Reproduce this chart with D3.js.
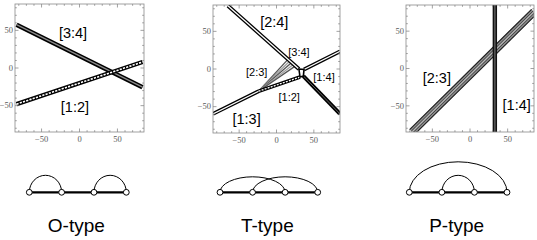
<!DOCTYPE html>
<html>
<head>
<meta charset="utf-8">
<script src="https://cdn.jsdelivr.net/npm/d3@7"></script>
<style>
body { margin: 0; background: #fff; }
</style>
</head>
<body>
<svg id="fig" width="537" height="240"></svg>
<script>
// axis ticks shared by the three contour plots
var tickValues = [-50, 0, 50];
var minorTicks = d3.range(-80, 81, 10);
var plotDomain = [-85, 85];

// O-type: two line solitons, [x1, y1, x2, y2]
var oDark = [[-83, 57.5, 83, -25.5]];
var oHatched = [[-83, -48, 83, 8]];
var oLabels = [["[3:4]", -8.5, 46], ["[1:2]", -6, -52]];

// T-type: resonant web
var tOutline = [[-65, 84, 30, 0], [36.8, -0.7, 85, 23.4], [-85, -59.6, -24, -29.5]];
var tDark = [[36, -9.4, 85, -59.6]];
var tHatched = [[-24, -29.5, 31.5, -10.7]];
var tBox = [[30, 0], [36.8, -0.7], [36, -9.4], [31.5, -10.7]];
var tFanStart = [-24, -29.5];
var tFanEnds = [[15, 12.5], [17.5, 10.3], [20, 8.2], [22.5, 6], [25, 3.8]];
var tLabels = [["[2:4]", -3, 63, "big"], ["[3:4]", 30, 22, "small"], ["[2:3]", -26.5, -3.6, "small"],
               ["[1:4]", 63.6, -11, "small"], ["[1:2]", 17, -38, "small"], ["[1:3]", -40, -66, "big"]];

// P-type: crossing bundle and vertical soliton
var pBundle = [[-77, -85, 85, 76]];
var pVertical = [[33, 85, 33, -85]];
var pLabels = [["[2:3]", -44, -13], ["[1:4]", 62, -48.5]];

// chord diagrams under each plot
var diagramNames = ["O-type", "T-type", "P-type"];
var diagramArcs = [[[0, 1], [2, 3]], [[0, 2], [1, 3]], [[0, 3], [1, 2]]];
var nodeIndex = [0, 1, 2, 3];

var svg = d3.select("#fig");

function makePanel(id, x0, x1, y0, y1){
  var x = d3.scaleLinear().domain(plotDomain).range([x0, x1]);
  var y = d3.scaleLinear().domain(plotDomain).range([y1, y0]);
  var g = svg.append("g");

  g.append("clipPath").attr("id", id)
    .append("rect").attr("x", x0).attr("y", y0)
    .attr("width", x1 - x0).attr("height", y1 - y0);

  var body = g.append("g").attr("clip-path", "url(#" + id + ")");

  // frame and ticks on all four sides
  var frame = g.append("g").attr("stroke", "#8a8a8a").attr("stroke-width", 0.8).attr("fill", "none");
  frame.append("rect").attr("x", x0).attr("y", y0).attr("width", x1 - x0).attr("height", y1 - y0);
  minorTicks.forEach(function(v){
    var len = tickValues.indexOf(v) >= 0 ? 3.5 : 1.8;
    frame.append("line").attr("x1", x(v)).attr("x2", x(v)).attr("y1", y1).attr("y2", y1 - len);
    frame.append("line").attr("x1", x(v)).attr("x2", x(v)).attr("y1", y0).attr("y2", y0 + len);
    frame.append("line").attr("y1", y(v)).attr("y2", y(v)).attr("x1", x0).attr("x2", x0 + len);
    frame.append("line").attr("y1", y(v)).attr("y2", y(v)).attr("x1", x1).attr("x2", x1 - len);
  });

  var fmt = d3.format("d");
  g.selectAll(".yt").data(tickValues).enter().append("text")
    .attr("x", x0 - 2).attr("y", function(d){ return y(d); })
    .attr("dy", "0.32em").attr("text-anchor", "end")
    .attr("font-family", "Liberation Serif, serif").attr("font-size", 8.5).attr("fill", "#5a5a5a")
    .text(fmt);
  g.selectAll(".xt").data(tickValues).enter().append("text")
    .attr("x", function(d){ return x(d); }).attr("y", y1 + 9.5)
    .attr("text-anchor", "middle")
    .attr("font-family", "Liberation Serif, serif").attr("font-size", 8.5).attr("fill", "#5a5a5a")
    .text(fmt);

  return {x: x, y: y, body: body, g: g};
}

// a soliton drawn as stacked strokes, optionally offset sideways in pixels
function drawBand(p, segs, layers){
  segs.forEach(function(s){
    var ax = p.x(s[0]), ay = p.y(s[1]), bx = p.x(s[2]), by = p.y(s[3]);
    var len = Math.hypot(bx - ax, by - ay);
    var nx = -(by - ay) / len, ny = (bx - ax) / len;
    layers.forEach(function(l){
      var o = l.off || 0;
      p.body.append("line")
        .attr("x1", ax + nx * o).attr("y1", ay + ny * o)
        .attr("x2", bx + nx * o).attr("y2", by + ny * o)
        .attr("stroke", l.c).attr("stroke-width", l.w)
        .attr("stroke-dasharray", l.dash || null);
    });
  });
}

function drawLabels(p, labels){
  p.g.selectAll(".lab").data(labels).enter().append("text")
    .attr("x", function(d){ return p.x(d[1]); })
    .attr("y", function(d){ return p.y(d[2]); })
    .attr("dy", "0.35em").attr("text-anchor", "middle")
    .attr("font-family", "Liberation Sans, Arial, sans-serif")
    .attr("font-size", function(d){ return d[3] == "small" ? 11 : 14.5; })
    .text(function(d){ return d[0]; });
}

var darkStyle = [{w: 4.6, c: "#000"}, {w: 1.3, c: "#8a8a8a"}];
var hatchStyle = [{w: 4.4, c: "#000"}, {w: 1.6, c: "#fff", dash: "2.2,1.2"}];
var outlineStyle = [{w: 3.8, c: "#000"}, {w: 1.3, c: "#fff"}];

// ---- O-type
var p1 = makePanel("c1", 15, 144, 4, 132);
drawBand(p1, oDark, darkStyle);
drawBand(p1, oHatched, hatchStyle);
drawLabels(p1, oLabels);

// ---- T-type
var p2 = makePanel("c2", 213, 340, 5, 133);
tFanEnds.forEach(function(e, i){
  p2.body.append("line")
    .attr("x1", p2.x(tFanStart[0])).attr("y1", p2.y(tFanStart[1]))
    .attr("x2", p2.x(e[0])).attr("y2", p2.y(e[1]))
    .attr("stroke", i % 2 ? "#a0a0a0" : "#555").attr("stroke-width", 1.3);
});
drawBand(p2, tOutline, outlineStyle);
drawBand(p2, tDark, [{w: 4, c: "#000"}, {w: 1, c: "#666"}]);
drawBand(p2, tHatched, [{w: 3.6, c: "#000"}, {w: 1.3, c: "#fff", dash: "2,1.2"}]);
p2.body.append("polygon")
  .attr("points", tBox.map(function(d){ return [p2.x(d[0]), p2.y(d[1])].join(","); }).join(" "))
  .attr("fill", "#fff").attr("stroke", "#000").attr("stroke-width", 1.6);
drawLabels(p2, tLabels);

// ---- P-type
var p3 = makePanel("c3", 406, 534, 5, 132);
drawBand(p3, pBundle, [{w: 7.8, c: "#909090"},
  {w: 1.1, c: "#222", off: -3.4}, {w: 1, c: "#444", off: -1.2},
  {w: 0.8, c: "#c8c8c8", off: 0}, {w: 1, c: "#444", off: 1.2}, {w: 1.1, c: "#222", off: 3.4}]);
drawBand(p3, pVertical, [{w: 4.4, c: "#111"}, {w: 1.6, c: "#555"}]);
drawLabels(p3, pLabels);

// ---- chord diagrams
var diagramRanges = [[29.3, 126.3], [220, 317.7], [409.3, 507]];
var baseY = 192.3;
diagramNames.forEach(function(name, k){
  var nx = d3.scaleLinear().domain([0, 3]).range(diagramRanges[k]);
  var g = svg.append("g");
  g.append("line").attr("x1", nx(0)).attr("x2", nx(3))
    .attr("y1", baseY).attr("y2", baseY)
    .attr("stroke", "#000").attr("stroke-width", 2.3);
  diagramArcs[k].forEach(function(a){
    var span = a[1] - a[0];
    var rx = (nx(a[1]) - nx(a[0])) / 2;
    var ry = span == 1 ? 17 : (span == 2 ? 15.5 : 30.5);
    g.append("path")
      .attr("d", "M" + nx(a[0]) + "," + baseY + " A" + rx + "," + ry + " 0 0 1 " + nx(a[1]) + "," + baseY)
      .attr("fill", "none").attr("stroke", "#000").attr("stroke-width", 1);
  });
  g.selectAll("circle").data(nodeIndex).enter().append("circle")
    .attr("cx", function(d){ return nx(d); }).attr("cy", baseY).attr("r", 2.9)
    .attr("fill", "#fff").attr("stroke", "#000").attr("stroke-width", 1);
  g.append("text")
    .attr("x", (nx(0) + nx(3)) / 2 - 1.5).attr("y", 225).attr("dy", "0.35em")
    .attr("text-anchor", "middle")
    .attr("font-family", "Liberation Sans, Arial, sans-serif").attr("font-size", 19)
    .text(name);
});
</script>
</body>
</html>
